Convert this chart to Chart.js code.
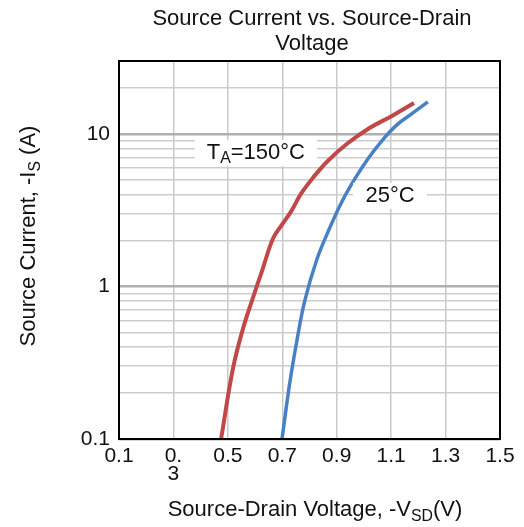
<!DOCTYPE html>
<html lang="en">
<head>
<meta charset="UTF-8">
<title>Source Current vs. Source-Drain Voltage</title>
<script src="https://cdn.jsdelivr.net/npm/chart.js"></script>
<style>
  html, body { margin: 0; padding: 0; background: #fff; }
  #wrap { width: 524px; height: 527px; }
</style>
</head>
<body>
<div id="wrap"><canvas id="grafico" width="524" height="527"></canvas></div>
<script>
// curve readings: -VSD (V) and -IS (A)
const v150 = [0.475, 0.519, 0.556, 0.589, 0.626, 0.666, 0.699, 0.732, 0.769, 0.813, 0.868, 0.938, 1.022, 1.103, 1.184];
const i150 = [0.1, 0.291, 0.531, 0.81, 1.27, 2.06, 2.54, 3.09, 4.05, 5.16, 6.66, 8.6, 10.95, 13.1, 15.9];
const v25 = [0.699, 0.728, 0.754, 0.783, 0.827, 0.875, 0.919, 0.967, 1.015, 1.066, 1.121, 1.180, 1.235];
const i25 = [0.1, 0.236, 0.444, 0.81, 1.50, 2.43, 3.59, 5.08, 6.87, 9.0, 11.45, 13.7, 16.2];

const xTicks = [0.1, 0.3, 0.5, 0.7, 0.9, 1.1, 1.3, 1.5];
const yGrid = [0.1, 0.2, 0.3, 0.4, 0.5, 0.6, 0.7, 0.8, 0.9,
               1, 2, 3, 4, 5, 6, 7, 8, 9, 10, 20, 30];
const yLabels = [0.1, 1, 10];

const FONT = '"Liberation Sans", Arial, sans-serif';

function pts(xs, ys) {
    return xs.map((x, k) => ({ x: x, y: ys[k] }));
}

// draws a line of text where some parts are subscripts, centred on cx
function textSub(ctx, parts, cx, cy, size) {
    let w = 0;
    parts.forEach(p => {
        ctx.font = (p.sub ? size * 0.72 : size) + 'px ' + FONT;
        w += ctx.measureText(p.t).width;
    });
    let x = cx - w / 2;
    ctx.textAlign = 'left';
    ctx.textBaseline = 'middle';
    parts.forEach(p => {
        ctx.font = (p.sub ? size * 0.72 : size) + 'px ' + FONT;
        ctx.fillText(p.t, x, p.sub ? cy + size * 0.28 : cy);
        x += ctx.measureText(p.t).width;
    });
    return w;
}

const textos = {
    id: 'textos',
    afterDraw(chart) {
        const ctx = chart.ctx;
        const a = chart.chartArea;
        const sx = chart.scales.x, sy = chart.scales.y;
        ctx.save();

        // frame
        ctx.strokeStyle = '#000';
        ctx.lineWidth = 2;
        ctx.strokeRect(a.left, a.top, a.right - a.left, a.bottom - a.top);

        ctx.fillStyle = '#111';
        // title
        ctx.font = '22px ' + FONT;
        ctx.textAlign = 'center';
        ctx.textBaseline = 'middle';
        ctx.fillText('Source Current vs. Source-Drain', 312, 19);
        ctx.fillText('Voltage', 312, 44);

        // x axis title
        textSub(ctx, [{ t: 'Source-Drain Voltage, -V' }, { t: 'SD', sub: true }, { t: '(V)' }], 315, 510, 22);

        // y axis title
        ctx.save();
        ctx.translate(29, 236);
        ctx.rotate(-Math.PI / 2);
        textSub(ctx, [{ t: 'Source Current, -I' }, { t: 'S', sub: true }, { t: ' (A)' }], 0, 0, 22);
        ctx.restore();

        // curve labels with white boxes
        const etiquetas = [
            { parts: [{ t: 'T' }, { t: 'A', sub: true }, { t: '=150°C' }], x: 0.603, y: 7.5, w: 122 },
            { parts: [{ t: '25°C' }], x: 1.096, y: 3.93, w: 74 }
        ];
        etiquetas.forEach(e => {
            const px = sx.getPixelForValue(e.x);
            const py = sy.getPixelForValue(e.y);
            ctx.fillStyle = '#fff';
            ctx.fillRect(px - e.w / 2, py - 13, e.w, 26);
            ctx.fillStyle = '#111';
            textSub(ctx, e.parts, px, py, 22);
        });
        ctx.restore();
    }
};

const config = {
    type: 'scatter',
    data: {
        datasets: [
            {
                label: '150°C',
                data: pts(v150, i150),
                showLine: true,
                borderColor: 'rgb(192, 72, 72)',
                borderWidth: 4,
                pointRadius: 0,
                tension: 0.4
            },
            {
                label: '25°C',
                data: pts(v25, i25),
                showLine: true,
                borderColor: 'rgb(72, 128, 196)',
                borderWidth: 3.5,
                pointRadius: 0,
                tension: 0.4
            }
        ]
    },
    options: {
        responsive: false,
        animation: false,
        layout: { padding: { top: 61, right: 24, left: 0, bottom: 0 } },
        plugins: {
            legend: { display: false },
            tooltip: { enabled: false }
        },
        scales: {
            x: {
                type: 'linear',
                min: 0.1,
                max: 1.5,
                afterBuildTicks: s => { s.ticks = xTicks.map(v => ({ value: v })); },
                afterFit: s => { s.height = 88; },
                grid: { color: '#c9c9c9', lineWidth: 1.5, drawTicks: false },
                border: { display: false },
                ticks: {
                    padding: 8,
                    color: '#111',
                    font: { family: FONT, size: 21, lineHeight: 0.85 },
                    maxRotation: 0,
                    autoSkip: false,
                    callback: v => {
                        const t = Math.round(v * 10) / 10;
                        return t === 0.3 ? ['0.', '3'] : t.toFixed(1);
                    }
                }
            },
            y: {
                type: 'logarithmic',
                min: 0.1,
                max: 30,
                afterBuildTicks: s => { s.ticks = yGrid.map(v => ({ value: v })); },
                afterFit: s => { s.width = 119; },
                grid: {
                    drawTicks: false,
                    color: c => yLabels.includes(c.tick.value) ? '#b0b0b0' : '#cdcdcd',
                    lineWidth: c => yLabels.includes(c.tick.value) ? 2.5 : 1.5
                },
                border: { display: false },
                ticks: {
                    padding: 9,
                    color: '#111',
                    font: { family: FONT, size: 21 },
                    autoSkip: false,
                    callback: v => {
                        const r = Math.round(v * 10) / 10;
                        return yLabels.includes(r) ? String(r) : '';
                    }
                }
            }
        }
    },
    plugins: [textos]
};

new Chart(document.getElementById('grafico'), config);
</script>
</body>
</html>
